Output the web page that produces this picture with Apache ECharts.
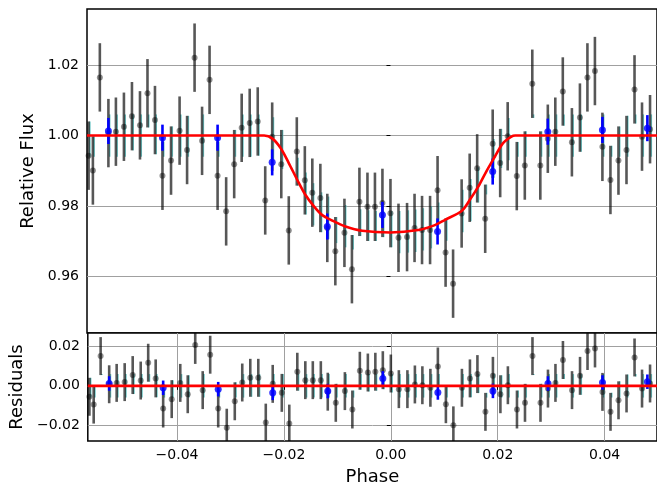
<!DOCTYPE html>
<html>
<head>
<meta charset="utf-8">
<script src="https://cdn.jsdelivr.net/npm/echarts@6/dist/echarts.min.js"></script>
<style>
html,body{margin:0;padding:0;background:#fff;}
#c{width:657px;height:489px;}
</style>
</head>
<body>
<div id="c"></div>
<script>
// ---- data ----
const phase = [-0.0564,-0.0556,-0.0543,-0.0527,-0.0513,-0.0498,-0.0483,-0.0468,-0.0454,-0.0440,
  -0.0426,-0.0410,-0.0394,-0.0380,-0.0366,-0.0352,-0.0338,-0.0323,-0.0307,-0.0292,
  -0.0278,-0.0263,-0.0248,-0.0234,-0.0221,-0.0204,-0.0190,-0.0175,-0.0160,-0.0146,
  -0.0131,-0.0118,-0.0103,-0.0086,-0.0072,-0.0058,-0.0043,-0.0029,-0.0015,0.0000,
  0.0015,0.0031,0.0045,0.0059,0.0074,0.0088,0.0103,0.0117,0.0133,0.0148,
  0.0162,0.0177,0.0191,0.0205,0.0219,0.0236,0.0251,0.0265,0.0280,0.0294,
  0.0308,0.0322,0.0339,0.0354,0.0368,0.0382,0.0396,0.0411,0.0426,0.0441,
  0.0456,0.0470,0.0485];
const flux = [0.9943,0.9901,1.0165,1.0007,1.0011,1.0025,1.0055,1.0029,1.0120,1.0044,
  0.9886,0.9929,1.0014,0.9959,1.0221,0.9985,1.0158,0.9886,0.9785,0.9919,
  1.0022,1.0036,1.0040,0.9816,0.9997,0.9919,0.9731,0.9955,0.9873,0.9838,
  0.9823,0.9738,0.9672,0.9724,0.9621,0.9812,0.9798,0.9798,0.9809,0.9780,
  0.9710,0.9712,0.9738,0.9732,0.9732,0.9845,0.9668,0.9580,0.9779,0.9852,
  0.9907,0.9764,0.9977,0.9922,0.9998,0.9885,0.9915,1.0147,0.9915,0.9991,
  1.0011,1.0125,0.9981,1.0051,1.0165,1.0183,0.9968,0.9874,0.9929,0.9959,
  1.0131,0.9997,1.0018];
const resid = [-0.0056,-0.0096,0.0152,0.0008,0.0015,0.0019,0.0055,0.0027,0.0118,0.0038,
  -0.0116,-0.0068,0.0015,-0.0043,0.0209,-0.0022,0.0159,-0.0116,-0.0214,-0.0079,
  0.0017,0.0041,0.0041,-0.0188,0.0010,-0.0036,-0.0193,0.0072,0.0029,0.0029,
  0.0029,-0.0030,-0.0087,-0.0027,-0.0121,0.0077,0.0068,0.0072,0.0080,0.0063,
  -0.0017,-0.0017,0.0007,0.0003,-0.0010,0.0099,-0.0094,-0.0202,-0.0010,0.0038,
  0.0060,-0.0133,0.0051,-0.0043,0.0003,-0.0121,-0.0087,0.0152,-0.0087,-0.0014,
  0.0015,0.0132,-0.0022,0.0051,0.0178,0.0191,-0.0031,-0.0133,-0.0074,-0.0039,
  0.0145,-0.0014,0.0012];
const modelAtPhase = [1,1,1,1,1,1,1,1,1,1,
  1,1,1,1,1,1,1,1,1,1,
  1,1,1,1,0.9992,0.9965,0.9922,0.9877,0.9835,0.9805,
  0.9779,0.9767,0.9755,0.9743,0.9737,0.9731,0.9728,0.9726,0.9725,0.9725,
  0.9726,0.9728,0.9730,0.9734,0.9740,0.9750,0.9762,0.9772,0.9786,0.9817,
  0.9850,0.9893,0.9930,0.9968,0.9990,1,1,1,1,1,
  1,1,1,1,1,1,1,1,1,1,
  1,1,1];
const residModel = phase.map(() => 0);
const fluxErr = 0.0097;
const modelBand = 0.006;

const binPhase = [-0.0527,-0.0426,-0.0323,-0.0221,-0.0118,-0.0015,0.0088,0.0191,0.0294,0.0396,0.0480];
const binFlux  = [1.0013,0.9994,0.9994,0.9924,0.9742,0.9775,0.9728,0.9898,1.0011,1.0016,1.0021];
const binResid = [0.0012,-0.0010,-0.0017,-0.0036,-0.0027,0.0038,-0.0034,-0.0026,0.0012,0.0017,0.0021];
const binErr = 0.0037;

const modelX = [-0.0567,-0.0250,-0.0236,-0.0221,-0.0205,-0.0190,-0.0174,-0.0159,-0.0143,-0.0128,
  -0.0109,-0.0084,-0.0053,0.0000,0.0052,0.0083,0.0102,0.0133,0.0148,0.0164,
  0.0179,0.0195,0.0210,0.0226,0.0233,0.0245,0.0498];
const modelY = [1.0,1.0,1.0,0.9992,0.9964,0.9922,0.9874,0.9832,0.9799,0.9775,
  0.9759,0.9742,0.9730,0.9725,0.9732,0.9746,0.9761,0.9786,0.9817,0.9855,
  0.9898,0.9940,0.9978,0.9997,1.0,1.0,1.0];

const zeroX = [-0.0567, 0.0498];
const zeroY = [0, 0];

const xTicks = [-0.04,-0.02,0.00,0.02,0.04];
const fluxTicks = [0.96,0.98,1.00,1.02];
const residTicks = [-0.02,0.00,0.02];

const X_MIN = -0.0567, X_MAX = 0.0498;
const F_MIN = 0.944, F_MAX = 1.0359;
const R_MIN = -0.0282, R_MAX = 0.0270;

// ---- chart ----
const FONT = 'DejaVu Sans';
const fmt = v => v.toFixed(2).replace('-', '\u2212');

function errSeries(xs, ys, err, color, width, xi, z) {
  return {
    type: 'custom', xAxisIndex: xi, yAxisIndex: xi, clip: true, z: z, silent: true,
    data: xs.map((x, i) => [x, ys[i], err]),
    encode: {x: 0, y: 1},
    renderItem: function (params, api) {
      const x = api.value(0), y = api.value(1), e = api.value(2);
      const a = api.coord([x, y - e]), b = api.coord([x, y + e]);
      return {type: 'line', shape: {x1: a[0], y1: a[1], x2: b[0], y2: b[1]},
        style: {stroke: color, lineWidth: width}};
    }
  };
}
// teal tint: part of each data bar that lies within the model band
function tintSeries(xs, ys, err, ms, band, color, width, xi, z) {
  return {
    type: 'custom', xAxisIndex: xi, yAxisIndex: xi, clip: true, z: z, silent: true,
    data: xs.map((x, i) => [x, ys[i], err, ms[i], band]),
    encode: {x: 0, y: 1},
    renderItem: function (params, api) {
      const x = api.value(0), y = api.value(1), e = api.value(2), m = api.value(3), bd = api.value(4);
      const lo = Math.max(y - e, m - bd), hi = Math.min(y + e, m + bd);
      if (hi <= lo) return null;
      const a = api.coord([x, lo]), b = api.coord([x, hi]);
      return {type: 'line', shape: {x1: a[0] + 1.3, y1: a[1], x2: b[0] + 1.3, y2: b[1]},
        style: {stroke: color, lineWidth: width}};
    }
  };
}
function scatter(xs, ys, color, size, xi, z, symbol) {
  return {type: 'scatter', xAxisIndex: xi, yAxisIndex: xi, z: z, silent: true,
    symbol: symbol || 'circle', symbolSize: size,
    itemStyle: {color: color, borderWidth: 0},
    data: xs.map((x, i) => [x, ys[i]])};
}
const zip = (a, b) => a.map((v, i) => [v, b[i]]);

const axisTitle = {fontFamily: FONT, fontSize: 18, color: '#000'};
const tickLabel = {fontFamily: FONT, fontSize: 14, color: '#000'};
const gridLine = {show: true, lineStyle: {color: '#a0a0a0', width: 1}};

const chart = echarts.init(document.getElementById('c'));
chart.setOption({
  animation: false,
  backgroundColor: '#fff',
  grid: [
    {left: 87, right: -3, top: 9, height: 324, show: true, borderColor: '#000', borderWidth: 1.5, backgroundColor: '#fff'},
    {left: 87, right: -3, top: 333, height: 108, show: true, borderColor: '#000', borderWidth: 1.5, backgroundColor: '#fff'}
  ],
  xAxis: [
    {type: 'value', gridIndex: 0, min: X_MIN, max: X_MAX,
      axisLine: {show: false}, axisTick: {show: false}, axisLabel: {show: false},
      splitLine: {show: false}},
    {type: 'value', gridIndex: 1, min: X_MIN, max: X_MAX,
      name: 'Phase', nameLocation: 'middle', nameGap: 27, nameTextStyle: axisTitle,
      axisLine: {show: false},
      axisTick: {show: true, inside: false, length: 4, lineStyle: {color: '#000', width: 1}, customValues: xTicks},
      axisLabel: {show: true, margin: 7, formatter: fmt, customValues: xTicks, ...tickLabel},
      splitLine: gridLine}
  ],
  yAxis: [
    {type: 'value', gridIndex: 0, min: F_MIN, max: F_MAX,
      name: 'Relative Flux', nameLocation: 'middle', nameGap: 47, nameRotate: 90, nameTextStyle: axisTitle,
      axisLine: {show: false},
      axisTick: {show: true, inside: false, length: 4, lineStyle: {color: '#000', width: 1}, customValues: fluxTicks},
      axisLabel: {show: true, margin: 8, formatter: v => v.toFixed(2), customValues: fluxTicks, ...tickLabel},
      splitLine: gridLine},
    {type: 'value', gridIndex: 1, min: R_MIN, max: R_MAX,
      name: 'Residuals', nameLocation: 'middle', nameGap: 56, nameRotate: 90, nameTextStyle: axisTitle,
      axisLine: {show: false},
      axisTick: {show: true, inside: false, length: 4, lineStyle: {color: '#000', width: 1}, customValues: residTicks},
      axisLabel: {show: true, margin: 8, formatter: fmt, customValues: residTicks, ...tickLabel},
      splitLine: gridLine}
  ],
  series: [
    tintSeries(phase, flux, fluxErr, modelAtPhase, modelBand, 'rgba(90,190,190,0.85)', 1.5, 0, 2),
    tintSeries(phase, resid, fluxErr, residModel, modelBand, 'rgba(90,190,190,0.85)', 1.5, 1, 2),
    errSeries(phase, flux, fluxErr, 'rgba(0,0,0,0.66)', 2.6, 0, 3),
    scatter(phase, flux, 'rgba(0,0,0,0.55)', 6, 0, 4),
    errSeries(phase, resid, fluxErr, 'rgba(0,0,0,0.66)', 2.6, 1, 3),
    scatter(phase, resid, 'rgba(0,0,0,0.55)', 6, 1, 4),
    errSeries(binPhase, binFlux, binErr, '#0000ff', 2.6, 0, 5),
    scatter(binPhase, binFlux, '#0000ff', 7, 0, 6),
    errSeries(binPhase, binResid, binErr, '#0000ff', 2.6, 1, 5),
    scatter(binPhase, binResid, '#0000ff', 7, 1, 6),
    {type: 'line', xAxisIndex: 0, yAxisIndex: 0, z: 7, silent: true, data: zip(modelX, modelY),
      showSymbol: false, smooth: 0.3, lineStyle: {color: '#ff0000', width: 2.6}, clip: true},
    {type: 'line', xAxisIndex: 1, yAxisIndex: 1, z: 7, silent: true, data: zip(zeroX, zeroY),
      showSymbol: false, lineStyle: {color: '#ff0000', width: 2.6}, clip: true}
  ]
});
</script>
</body>
</html>
